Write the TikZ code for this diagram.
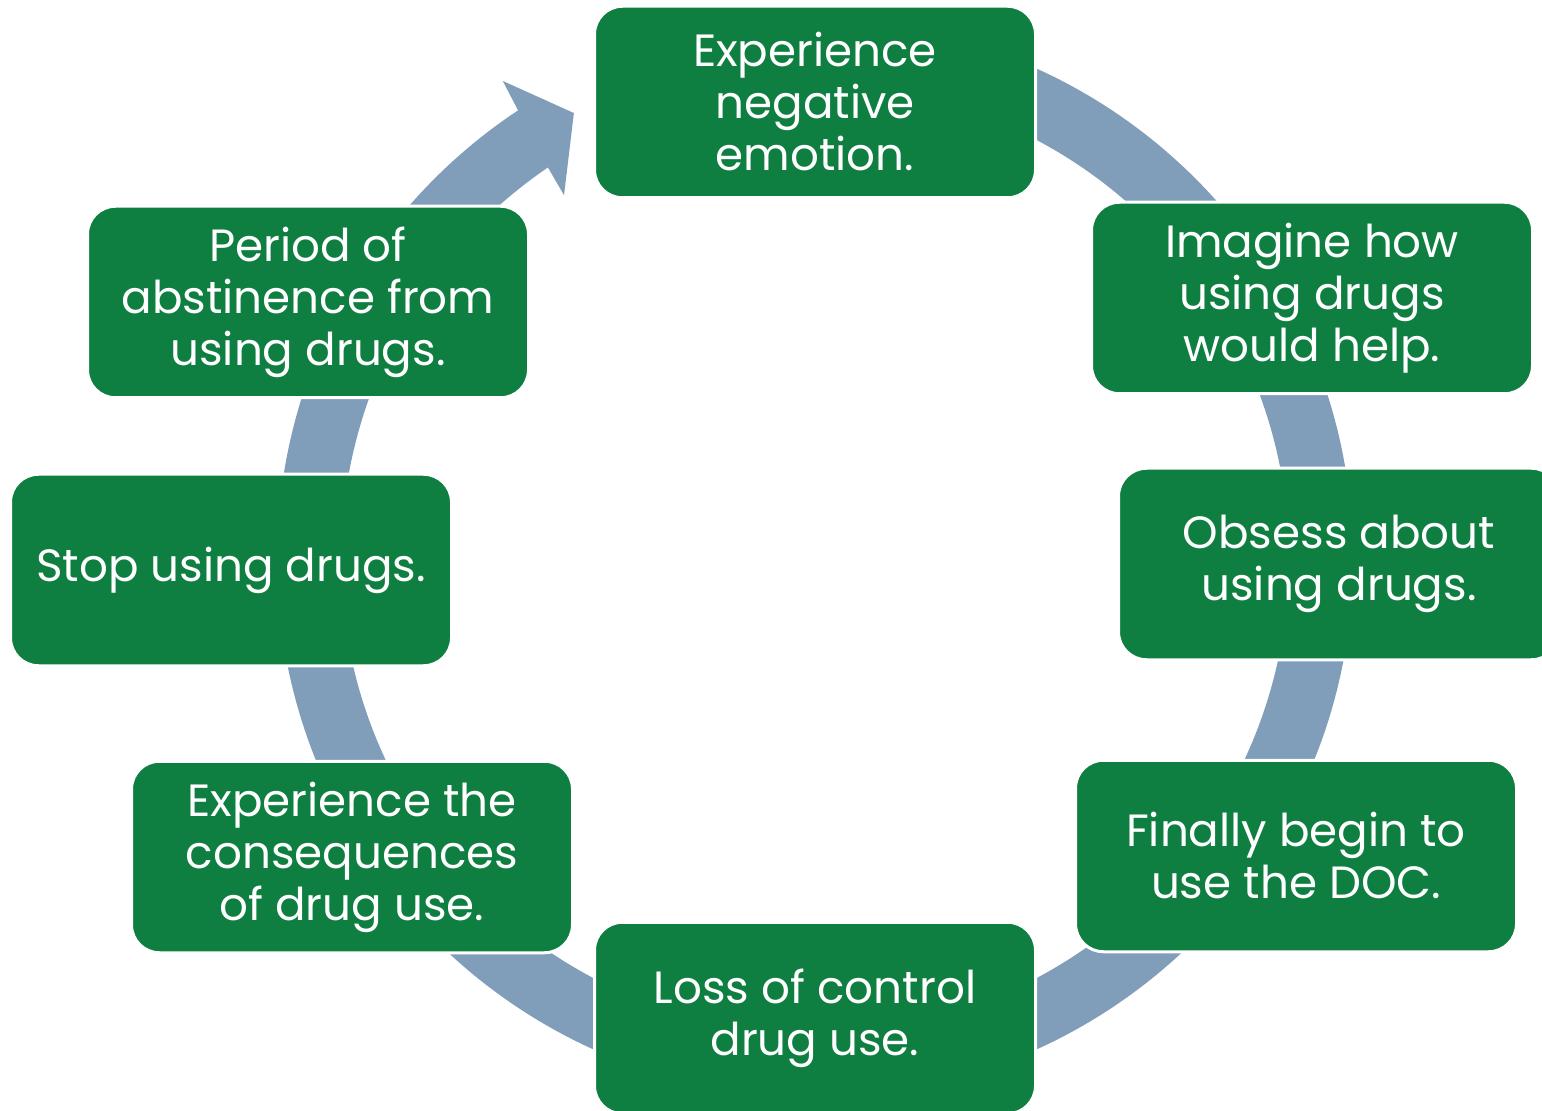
\documentclass[tikz,border=0pt]{standalone}
\usepackage{fontspec}
\setmainfont{Poppins}
\definecolor{stagegreen}{RGB}{14,127,65}
\definecolor{cyclegray}{RGB}{128,157,186}

\begin{document}
\begin{tikzpicture}[x=0.5pt,y=0.5pt,
    stage/.style={rectangle, rounded corners=14pt, fill=stagegreen, draw=white, line width=1.5pt,
        minimum width=220.5pt, minimum height=95.75pt, inner sep=0pt, align=center,
        text=white, font=\fontsize{22.6}{26}\selectfont}]
    \clip (0,0) rectangle (1542,1110);
    \coordinate (c) at (815,551);
    % the cycle arrow behind the stages
    \fill[cyclegray, shift={(c)}] (90:538) arc[start angle=90, end angle=-236.5, radius=538]
        -- (123.15:571) -- (118.4:507) -- (124.6:442) -- (124.3:474)
        arc[start angle=-235.7, end angle=90, radius=474] -- cycle;

    \node[stage] (negemotion) at (815,1008) {Experience\\negative\\emotion.};
    \node[stage] (imagine) at (1312,812) {Imagine how\\using drugs\\would help.};
    \node[stage] (obsess) at (1339,546) {Obsess about\\using drugs.};
    \node[stage] (begindoc) at (1296,254) {Finally begin to\\use the DOC.};
    \node[stage] (losscontrol) at (815,92) {Loss of control\\drug use.};
    \node[stage] (consequences) at (352,253) {Experience the\\consequences\\of drug use.};
    \node[stage] (stopdrugs) at (231,540) {Stop using drugs.};
    \node[stage] (abstinence) at (308,808) {Period of\\abstinence from\\using drugs.};
\end{tikzpicture}
\end{document}
